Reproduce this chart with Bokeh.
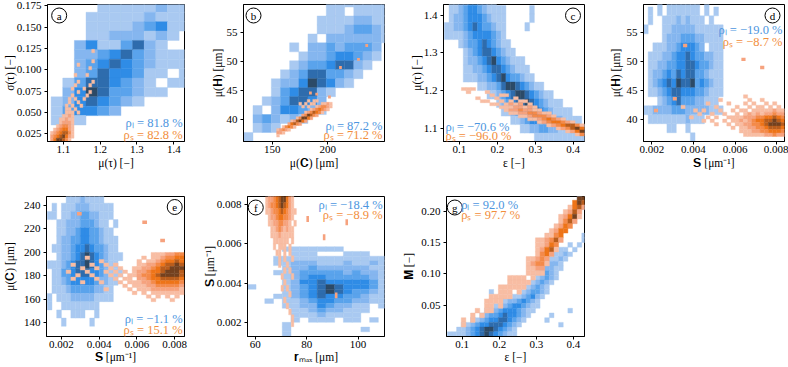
from bokeh.plotting import figure
from bokeh.layouts import column, row
from bokeh.models import Range1d, FixedTicker, PrintfTickFormatter, Label
from bokeh.embed import file_html
from bokeh.resources import INLINE

BLUE = ["#a9c9f1", "#85b6ef", "#5aa3ec", "#2f8ce6", "#2e6cad", "#2c4a67"]
ORANGE = ["#f8bda3", "#f6a27e", "#f48a4a", "#ee7418", "#b95d1d", "#74411f"]
BLUE_TXT = "#4d96e0"
ORANGE_TXT = "#f28e3c"
FONT = "Liberation Serif"

# ---------------- data: 2D histogram levels (rows top -> bottom) ----------------
A_BLUE_BINS = [1.0668, 0.0316, 0.0354, 0.011]
A_BLUE = [
    "000011111211", "000111112111", "000111123411", "000112221210",
    "002411352100", "002234532111", "002345432111", "002354431101",
    "013554321011", "024653321100", "124543210000", "134432000000",
    "121000000000"]
A_ORANGE_BINS = [1.065, 0.008, 0.016, 0.004]
A_ORANGE = [
    "00000000000000000", "00000000000000000", "00000000000000000", "00000000000000100",
    "00000000000000000", "00000000000000000", "00000000000000100", "00000000010000000",
    "00000000000001000", "00000000000000000", "00000000100010000", "00000000000000000",
    "00000000010000100", "00000000100001000", "00000001000100000", "00000000010001000",
    "00000001000010000", "00000010100100000", "00000010010000000", "00000101001000000",
    "00000110100000000", "00000111010000000", "00001121000000000", "00011211000000000",
    "00012221000000000", "00123321000000000", "01234421000000000", "12345531000000000",
    "23456421000000000", "24665310000000000"]

B_BLUE_BINS = [124.5, 8.24, 36.15, 1.545]
B_BLUE = [
    "0000000001111111", "0000000001101111", "0000000011112211", "0000000011123321",
    "0000000102222221", "0000010223233320", "0000001223443210", "0000012334552100",
    "0000123553321000", "0001224654210000", "0001345521000000", "0012355420000000",
    "0102443210000000", "0232121000000000", "0121000000000000", "1000000000000000"]
B_ORANGE_BINS = [154.0, 2.5, 36.9, 0.5]
B_ORANGE = [
    "00000000000000000000", "00000000000101100000", "00000000101011001121",
    "00000000010100123321", "00000000000012343210", "00000000001235431000",
    "00000000023653200000", "00000001366420000000", "00000125642000000000",
    "00002453200000000000", "00134310000000000000", "12321000000000000000",
    "22100000000000000000", "10000000000000000000"]
B_DOTS_X = [184.4, 190.0, 201.5, 211.4, 227.6, 235.0]
B_DOTS_Y = [44.5, 44.3, 43.8, 48.9, 50.3, 52.7]

C_BLUE_BINS = [0.06, 0.0125, 1.065, 0.0225]
C_BLUE = [
    "011223322110000000000000000000", "011234432111100000100000000000",
    "012234443211100000100000000000", "112234543321100001000000000000",
    "111123444432100000000000000000", "000123345432110000000000000000",
    "000012345543211000000000000000", "000012234564321110000000000000",
    "000011223455432111000000000000", "000011122345643321100000000000",
    "000000011223566543211000000000", "000000000112345665432110000000",
    "000000000001234556543211100000", "000000000000112345554321111000",
    "000000000000001123443332211110", "000000000000000011223322111111",
    "000000000000000000011111111111"]
C_ORANGE_BINS = [0.08, 0.0125, 1.08, 0.008]
C_ORANGE = [
    "0011100000000000000000000000", "0001000100000000000000000000",
    "0000000010110000000000000000", "0000010001000100000000000000",
    "0000001100101011000000000000", "0000000011012120100000000000",
    "0000000000111221210000000000", "0000000000012232211000000000",
    "0000000000001122332110000000", "0000000000000011233321000000",
    "0000000000000000112343210000", "0000000000000000001234432100",
    "0000000000000000000012345531", "0000000000000000000000123564",
    "0000000000000000000000001246", "0000000000000000000000000013"]

D_BLUE_BINS = [0.0016, 0.000225, 36.1, 1.55]
D_BLUE = [
    "000101111111010000", "010101111111010100", "010011121211101000",
    "100011222221111110", "000012223332211110", "001112234443201110",
    "011122344543322110", "011223344554332110", "012234354553321110",
    "012345465563432110", "011234554443321110", "000123453332211100",
    "112222333222221110", "011111111211100000", "000001100100000000",
    "000000000010000000"]
D_ORANGE_BINS = [0.0034, 0.0002, 37.0, 0.6]
D_ORANGE = [
    "0000000000000001000000000", "0000000001000000100100000",
    "0000001000010001010010100", "1000000010000100101101010",
    "0001010001001011011111211", "0000100100100101212122322",
    "0010001010011112223344543", "0000010100101121234455654",
    "0000000010010112233456665", "0000000000001011223345554",
    "0000000000000011122334443", "0000000000000001111122322"]
D_DOTS_X = [0.0022, 0.0031, 0.0036, 0.0064, 0.0073]
D_DOTS_Y = [41.5, 43.5, 52.7, 50.3, 48.9]

E_BLUE_BINS = [0.00125, 0.00025, 130.0, 7.0]
E_BLUE = [
    "0000111211110000", "0101112221111100", "1101122332211100", "0011222333211010",
    "0011223443321100", "0012233443321110", "0112234454332110", "0012234565432111",
    "1112345565432110", "0113345554432111", "0112344444322110", "0111233333221100",
    "1011122222111100", "1001111111100000", "0010011100100000", "0001000001000000",
    "0000000000000000"]
E_ORANGE_BINS = [0.002, 0.00025, 158.0, 3.0]
E_ORANGE = [
    "00000000000000000001112233", "00000100000000000101123344",
    "00000000100000001011234454", "00100010010100001122345565",
    "00001001001010011223455666", "01000100010101012234456665",
    "00010010001010112334566665", "00100001000101102234455554",
    "00001000100010111223444443", "00000000000001011122333332",
    "00000000010000101112222221", "00000000000000010101111111",
    "00000000000000000010101010", "00000000000000000001000100"]
E_DOTS_X = [0.00295, 0.00641, 0.00736]
E_DOTS_Y = [232.9, 225.8, 210.2]

F_BLUE_BINS = [56.9, 3.4, 0.0013, 0.00024]
F_BLUE = [
    "0000111111100000", "0000011100011100", "0001111111111111", "0001122211121121",
    "0000122322222211", "0001123333323221", "0000123443333321", "0000124454444431",
    "1000123456544431", "0000123456543321", "0001123454433211", "0010112344332211",
    "0000112243221101", "0000011232211100", "0000011121111000", "0000010111011010",
    "0000100000000000", "0000100000000100", "0000100000000000"]
F_ORANGE_BINS = [62.0, 1.0, 0.0018, 0.0003]
F_ORANGE = [
    "0001223456531000", "0012234566421000", "0012334565421000", "0011233454321100",
    "0001223443321000", "0001122332210100", "0000112321211000", "0000111211111000",
    "0000011111101000", "0000010111010000", "0000001101010000", "0000000101001000",
    "0000000100100000", "0000000001010000", "0000000010001000", "0000000001000000",
    "0000000010100000", "0000000000010000", "0000000001000000", "0000000000100000",
    "0000000000010000", "0000000000001000", "0000000000001000"]
F_DOTS_X = [80.4, 95.6, 86.8, 91.5]
F_DOTS_Y = [0.00727, 0.0071, 0.00634, 0.00339]

G_BINS = [0.06, 0.0125, 0.0, 0.0075]
G_BLUE = [
    "000000000000000000000000000010", "000000000000000000000000000000",
    "000000000000000000000000000001", "000000000000000000000000000000",
    "000000000000000000000000000000", "000000000000000000000000000000",
    "000000000000000000000000000000", "000000000000000000000000000000",
    "000000000000000000000000000001", "000000000000000000000000000001",
    "000000000000000000000000001010", "000000000000000000000000110100",
    "000000000000000000000001121000", "000000000000000000000011210000",
    "000000000000000000000122100000", "000000000000000000001221100000",
    "000000000000000000012321000000", "000000000000000000012321000000",
    "000000000000000000123210000000", "000000000000000001232100000000",
    "000000000100000012332100000000", "000000000000001123421000000000",
    "000000000000122343210000000000", "000000000011234432110000000000",
    "000000001223444321100000001000", "000000012334544321000010000000",
    "000001123445543210000100000000", "000112344555432100000000100000",
    "001123456654321000000000000000", "111123456543211000000000000000"]
G_ORANGE = [
    "000000000000000000000000000066", "000000000000000000000000000465",
    "000000000000000000000000001452", "000000000000000000000000012520",
    "000000000000000000000000124610", "000000000000000000000000135200",
    "000000000000000000000001243000", "000000000000000000000012440000",
    "000000000000000000000113400000", "000000000000000000011235200000",
    "000000000000000000011243000000", "000000000000000000012451000000",
    "000000000000000000013420000000", "000000000000000001123200000000",
    "000000000000000001233100000000", "000000000000000001122000000000",
    "000000000000000001111000000000", "000000000000011110100000000000",
    "000000000000011111000000000000", "000000000001111110000000000000",
    "000000000001110100000000000000", "000000000111110000000000000000",
    "000000001111000000000000000000", "000000001101000000000000000000",
    "000000101100000000000000000000", "000001010000000000000000000000",
    "000101000000000000000000000000", "000100000000000000000000000000",
    "000000000000000000000000000000", "000000000000000000000000000000"]

# axis ranges and ticks
A_XR, A_YR = [1.057, 1.429], [0.0161, 0.1765]
B_XR, B_YR = [124.2, 251.0], [36.14, 59.76]
C_XR, C_YR = [0.0578, 0.4298], [1.0653, 1.4279]
D_XR, D_YR = [0.0016, 0.00837], [36.14, 59.76]
E_XR, E_YR = [0.00121, 0.00852], [128.3, 247.7]
F_XR, F_YR = [56.97, 110.3], [0.0013, 0.00841]
G_XR, G_YR = [0.0578, 0.4298], [0.0, 0.2234]
A_XTICKS, A_YTICKS = [1.1, 1.2, 1.3, 1.4], [0.025, 0.05, 0.075, 0.1, 0.125, 0.15, 0.175]
B_XTICKS, B_YTICKS = [150, 200], [40, 45, 50, 55]
C_XTICKS, C_YTICKS = [0.1, 0.2, 0.3, 0.4], [1.1, 1.2, 1.3, 1.4]
D_XTICKS, D_YTICKS = [0.002, 0.004, 0.006, 0.008], [40, 45, 50, 55]
E_XTICKS, E_YTICKS = [0.002, 0.004, 0.006, 0.008], [140, 160, 180, 200, 220, 240]
F_XTICKS, F_YTICKS = [60, 80, 100], [0.002, 0.004, 0.006, 0.008]
G_XTICKS, G_YTICKS = [0.1, 0.2, 0.3, 0.4], [0.05, 0.10, 0.15, 0.20]

RHO_L = ["81.8", "87.2", "\u221270.6", "\u221219.0", "\u22121.1", "\u221218.4", "92.0"]
RHO_S = ["82.8", "71.2", "\u221296.0", "\u22128.7", "15.1", "\u22128.9", "97.7"]


def cells(rows, bins):
    x0, dx, y0, dy = bins
    xs, ys, lv = [], [], []
    n = len(rows)
    for k, s in enumerate(rows):
        j = n - 1 - k
        for i, ch in enumerate(s):
            v = int(ch)
            if v:
                xs.append(x0 + (i + 0.5) * dx)
                ys.append(y0 + (j + 0.5) * dy)
                lv.append(v)
    return xs, ys, lv


def panel(c):
    W, H = c["size"]
    L, R, T, B = c["border"]
    fw, fh = W - L - R, H - T - B
    xr, yr = c["xr"], c["yr"]
    xs_, ys_ = (xr[1] - xr[0]) / fw, (yr[1] - yr[0]) / fh
    p = figure(width=W, height=H, x_range=Range1d(*xr), y_range=Range1d(*yr),
               output_backend="svg", toolbar_location=None,
               min_border_left=L, min_border_right=R, min_border_top=T, min_border_bottom=B)
    p.outline_line_color = "black"
    p.outline_line_width = 1
    p.grid.visible = False
    p.background_fill_color = "white"
    p.border_fill_color = "white"
    for ax, ticks, fmt, lab, sto in ((p.xaxis[0], c["xticks"], c["xfmt"], c["xlabel"], c["xsto"]),
                                     (p.yaxis[0], c["yticks"], c["yfmt"], c["ylabel"], c["ysto"])):
        ax.ticker = FixedTicker(ticks=ticks)
        ax.formatter = PrintfTickFormatter(format=fmt)
        ax.major_tick_in = 0
        ax.major_tick_out = 3
        ax.minor_tick_line_color = None
        ax.axis_line_color = "black"
        ax.major_label_text_font = FONT
        ax.major_label_text_font_size = "11px"
        ax.major_label_text_color = "black"
        ax.axis_label = lab
        ax.axis_label_text_font = FONT
        ax.axis_label_text_font_size = "11.5px"
        ax.axis_label_text_font_style = "normal"
        ax.axis_label_text_color = "black"
        ax.axis_label_standoff = sto
    p.xaxis[0].major_label_standoff = 1
    p.yaxis[0].major_label_standoff = 3

    for rows, bins, pal in c["layers"]:
        x, y, lv = cells(rows, bins)
        cols = [pal[v - 1] for v in lv]
        p.rect(x=x, y=y, width=bins[1], height=bins[3], fill_color=cols,
               line_color=cols, line_width=0.4)
    if c.get("dots"):
        dx_, dy_, bins = c["dots"]
        p.rect(x=dx_, y=dy_, width=bins[1], height=bins[3], fill_color=ORANGE[1], line_color=None)

    # panel letter in a circle
    side, dxp, dyp = c["letter_pos"]
    cx = xr[0] + dxp * xs_ if side == "left" else xr[1] - dxp * xs_
    cy = yr[1] - dyp * ys_
    p.scatter(x=[cx], y=[cy], size=15, marker="circle", fill_color="white",
              line_color="black", line_width=1)
    p.add_layout(Label(x=cx, y=cy, text=c["letter"], text_align="center",
                       text_baseline="middle", text_font=FONT, text_font_size="11px",
                       text_color="black", y_offset=-0.5))
    # correlation texts
    rside, rx, vside, ry1, ry2 = c["rho_pos"]
    tx = xr[0] + rx * xs_ if rside == "left" else xr[1] - rx * xs_
    align = "left" if rside == "left" else "right"
    for txt, col, ry in ((f"\u03c1\u2097 = {c['rl']} %", BLUE_TXT, ry1),
                         (f"\u03c1\u209b = {c['rs']} %", ORANGE_TXT, ry2)):
        ty = yr[0] + ry * ys_ if vside == "bottom" else yr[1] - ry * ys_
        p.add_layout(Label(x=tx, y=ty, text=txt, text_align=align, text_baseline="middle",
                           text_font=FONT, text_font_size="12.5px", text_color=col))
    return p


TOP = (4, 49)
BOT = (6, 31)
cfgs = [
    dict(size=(200, 190), border=(43, 16) + TOP, xr=A_XR, yr=A_YR, xticks=A_XTICKS, yticks=A_YTICKS,
         xfmt="%.1f", yfmt="%.3f", xlabel="\u03bc(\u03c4) [\u2212]", ylabel="\u03c3(\u03c4) [\u2212]",
         layers=[(A_BLUE, A_BLUE_BINS, BLUE), (A_ORANGE, A_ORANGE_BINS, ORANGE)],
         xsto=1, ysto=-2, letter="a", letter_pos=("left", 12, 11),
         rl=RHO_L[0], rs=RHO_S[0], rho_pos=("right", 2, "bottom", 18.5, 7)),
    dict(size=(200, 190), border=(43, 16) + TOP, xr=B_XR, yr=B_YR, xticks=B_XTICKS, yticks=B_YTICKS,
         xfmt="%d", yfmt="%d", xlabel="\u03bc(\U0001D402) [\u03bcm]", ylabel="\u03bc(\U0001D407) [\u03bcm]",
         layers=[(B_BLUE, B_BLUE_BINS, BLUE), (B_ORANGE, B_ORANGE_BINS, ORANGE)],
         dots=(B_DOTS_X, B_DOTS_Y, B_ORANGE_BINS),
         xsto=1, ysto=0, letter="b", letter_pos=("left", 10, 11),
         rl=RHO_L[1], rs=RHO_S[1], rho_pos=("right", 2, "bottom", 16, 6.5)),
    dict(size=(200, 190), border=(43, 16) + TOP, xr=C_XR, yr=C_YR, xticks=C_XTICKS, yticks=C_YTICKS,
         xfmt="%.1f", yfmt="%.1f", xlabel="\u03b5 [\u2212]", ylabel="\u03bc(\u03c4) [\u2212]",
         layers=[(C_BLUE, C_BLUE_BINS, BLUE), (C_ORANGE, C_ORANGE_BINS, ORANGE)],
         xsto=1, ysto=-2, letter="c", letter_pos=("right", 11.5, 11),
         rl=RHO_L[2], rs=RHO_S[2], rho_pos=("left", 2, "bottom", 15, 6)),
    dict(size=(188, 190), border=(43, 4) + TOP, xr=D_XR, yr=D_YR, xticks=D_XTICKS, yticks=D_YTICKS,
         xfmt="%.3f", yfmt="%d", xlabel="\U0001D412 [\u03bcm\u207b\u00b9]", ylabel="\u03bc(\U0001D407) [\u03bcm]",
         layers=[(D_BLUE, D_BLUE_BINS, BLUE), (D_ORANGE, D_ORANGE_BINS, ORANGE)],
         dots=(D_DOTS_X, D_DOTS_Y, D_ORANGE_BINS),
         xsto=1, ysto=2, letter="d", letter_pos=("right", 12, 11),
         rl=RHO_L[3], rs=RHO_S[3], rho_pos=("right", 2, "top", 25, 37)),
    dict(size=(200, 177), border=(43, 16) + BOT, xr=E_XR, yr=E_YR, xticks=E_XTICKS, yticks=E_YTICKS,
         xfmt="%.3f", yfmt="%d", xlabel="\U0001D412 [\u03bcm\u207b\u00b9]", ylabel="\u03bc(\U0001D402) [\u03bcm]",
         layers=[(E_BLUE, E_BLUE_BINS, BLUE), (E_ORANGE, E_ORANGE_BINS, ORANGE)],
         dots=(E_DOTS_X, E_DOTS_Y, E_ORANGE_BINS),
         xsto=0, ysto=5, letter="e", letter_pos=("right", 10, 10.5),
         rl=RHO_L[4], rs=RHO_S[4], rho_pos=("right", 2, "bottom", 18, 7)),
    dict(size=(200, 177), border=(43, 16) + BOT, xr=F_XR, yr=F_YR, xticks=F_XTICKS, yticks=F_YTICKS,
         xfmt="%d", yfmt="%.3f", xlabel="\U0001D42B\u2098\u2090\u2093 [\u03bcm]", ylabel="\U0001D412 [\u03bcm\u207b\u00b9]",
         layers=[(F_BLUE, F_BLUE_BINS, BLUE), (F_ORANGE, F_ORANGE_BINS, ORANGE)],
         dots=(F_DOTS_X, F_DOTS_Y, F_ORANGE_BINS),
         xsto=0, ysto=-2, letter="f", letter_pos=("left", 8.5, 11),
         rl=RHO_L[5], rs=RHO_S[5], rho_pos=("right", 2, "top", 8, 18)),
    dict(size=(200, 177), border=(43, 16) + BOT, xr=G_XR, yr=G_YR, xticks=G_XTICKS, yticks=G_YTICKS,
         xfmt="%.1f", yfmt="%.2f", xlabel="\u03b5 [\u2212]", ylabel="\U0001D40C [\u2212]",
         layers=[(G_BLUE, G_BINS, BLUE), (G_ORANGE, G_BINS, ORANGE)],
         xsto=0, ysto=3, letter="g", letter_pos=("left", 8.5, 11),
         rl=RHO_L[6], rs=RHO_S[6], rho_pos=("left", 15, "top", 8, 18)),
]

figs = [panel(c) for c in cfgs]
layout = column(row(*figs[:4]), row(*figs[4:]))
open("out.html", "w").write(file_html(layout, INLINE))
